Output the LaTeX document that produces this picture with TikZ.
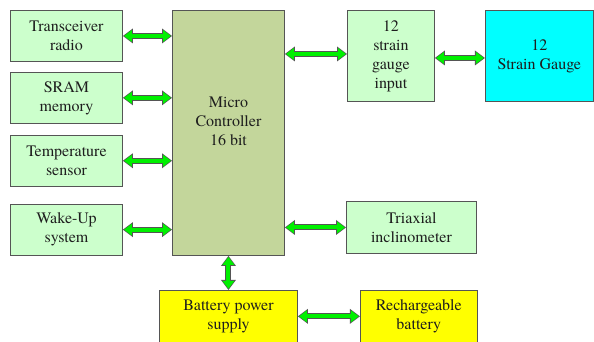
\documentclass[tikz,border=0pt]{standalone}
\usepackage{fontspec}
\setmainfont{texgyretermes}[Extension=.otf, UprightFont=*-regular, BoldFont=*-bold]
\usetikzlibrary{positioning, arrows.meta}
\definecolor{boxgreen}{RGB}{204,255,204}
\definecolor{mcolive}{RGB}{195,214,155}
\definecolor{boxcyan}{RGB}{0,255,255}
\definecolor{boxyellow}{RGB}{255,255,0}
\definecolor{busgreen}{RGB}{0,240,0}
\definecolor{edge}{RGB}{85,85,85}
\definecolor{ink}{RGB}{30,30,30}
\tikzset{
    block/.style={draw=edge, line width=0.9pt, text=ink, align=center, inner sep=0pt,
        font=\rmfamily\fontsize{16}{19}\selectfont},
    sidebox/.style={block, fill=boxgreen, minimum width=112pt, minimum height=51pt},
    mcbox/.style={block, fill=mcolive, minimum width=112pt, minimum height=245pt},
    inbox/.style={block, fill=boxgreen, minimum width=87pt, minimum height=91pt},
    gaugebox/.style={block, fill=boxcyan, minimum width=108pt, minimum height=91pt},
    tribox/.style={block, fill=boxgreen, minimum width=130pt, minimum height=52pt},
    powerbox/.style={block, fill=boxyellow, minimum width=138pt, minimum height=52pt},
    cellbox/.style={block, fill=boxyellow, minimum width=117pt, minimum height=52pt},
    busouter/.style={draw=edge, line width=6pt,
        {Triangle[length=10pt, width=15pt, line width=0pt]}-{Triangle[length=10pt, width=15pt, line width=0pt]}},
    businner/.style={draw=busgreen, line width=4pt, shorten <=1.2pt, shorten >=1.2pt,
        {Triangle[length=7.8pt, width=12pt, line width=0pt]}-{Triangle[length=7.8pt, width=12pt, line width=0pt]}}
}
\newcommand\bus[2]{\draw[busouter]#1--#2; \draw[businner]#1--#2;}
\begin{document}
\begin{tikzpicture}[x=1pt, y=1pt]
  \useasboundingbox (0,0) rectangle (594,-341);
  % left column
  \node(radio)[sidebox, anchor=north west] at (10,-10) {Transceiver\\radio};
  \node(sram)[sidebox, below=10pt of radio]{SRAM\\memory};
  \node(temp)[sidebox, below=11pt of sram]{Temperature\\sensor};
  \node(wake)[sidebox, below=17pt of temp]{Wake-Up\\system};
  % controller
  \node(mc)[mcbox, anchor=north west] at (172,-10)
    [label={[block, draw=none, yshift=12pt]center:Micro\\Controller\\16 bit}]{};
  % right side
  \node(input)[inbox, anchor=north west] at (347,-10) {12\\strain\\gauge\\input};
  \node(gauge)[gaugebox, right=50pt of input]{12\\Strain Gauge};
  \node(tri)[tribox, anchor=north west] at (346,-201) {Triaxial\\inclinometer};
  % power
  \node(power)[powerbox, below=34pt of mc]{Battery power\\supply};
  \node(cell)[cellbox, right=62pt of power]{Rechargeable\\battery};
  % connectors
  \bus{(radio.east)}{(radio.east -| mc.west)}
  \bus{(sram.east)}{(sram.east -| mc.west)}
  \bus{(temp.east)}{(temp.east -| mc.west)}
  \bus{(wake.east)}{(wake.east -| mc.west)}
  \bus{([yshift=2pt]input.west -| mc.east)}{([yshift=2pt]input.west)}
  \bus{([yshift=-2pt]input.east)}{([yshift=-2pt]input.east -| gauge.west)}
  \bus{(tri.west -| mc.east)}{(tri.west)}
  \bus{(mc.south)}{(power.north)}
  \bus{(power.east)}{(cell.west)}
\end{tikzpicture}
\end{document}
